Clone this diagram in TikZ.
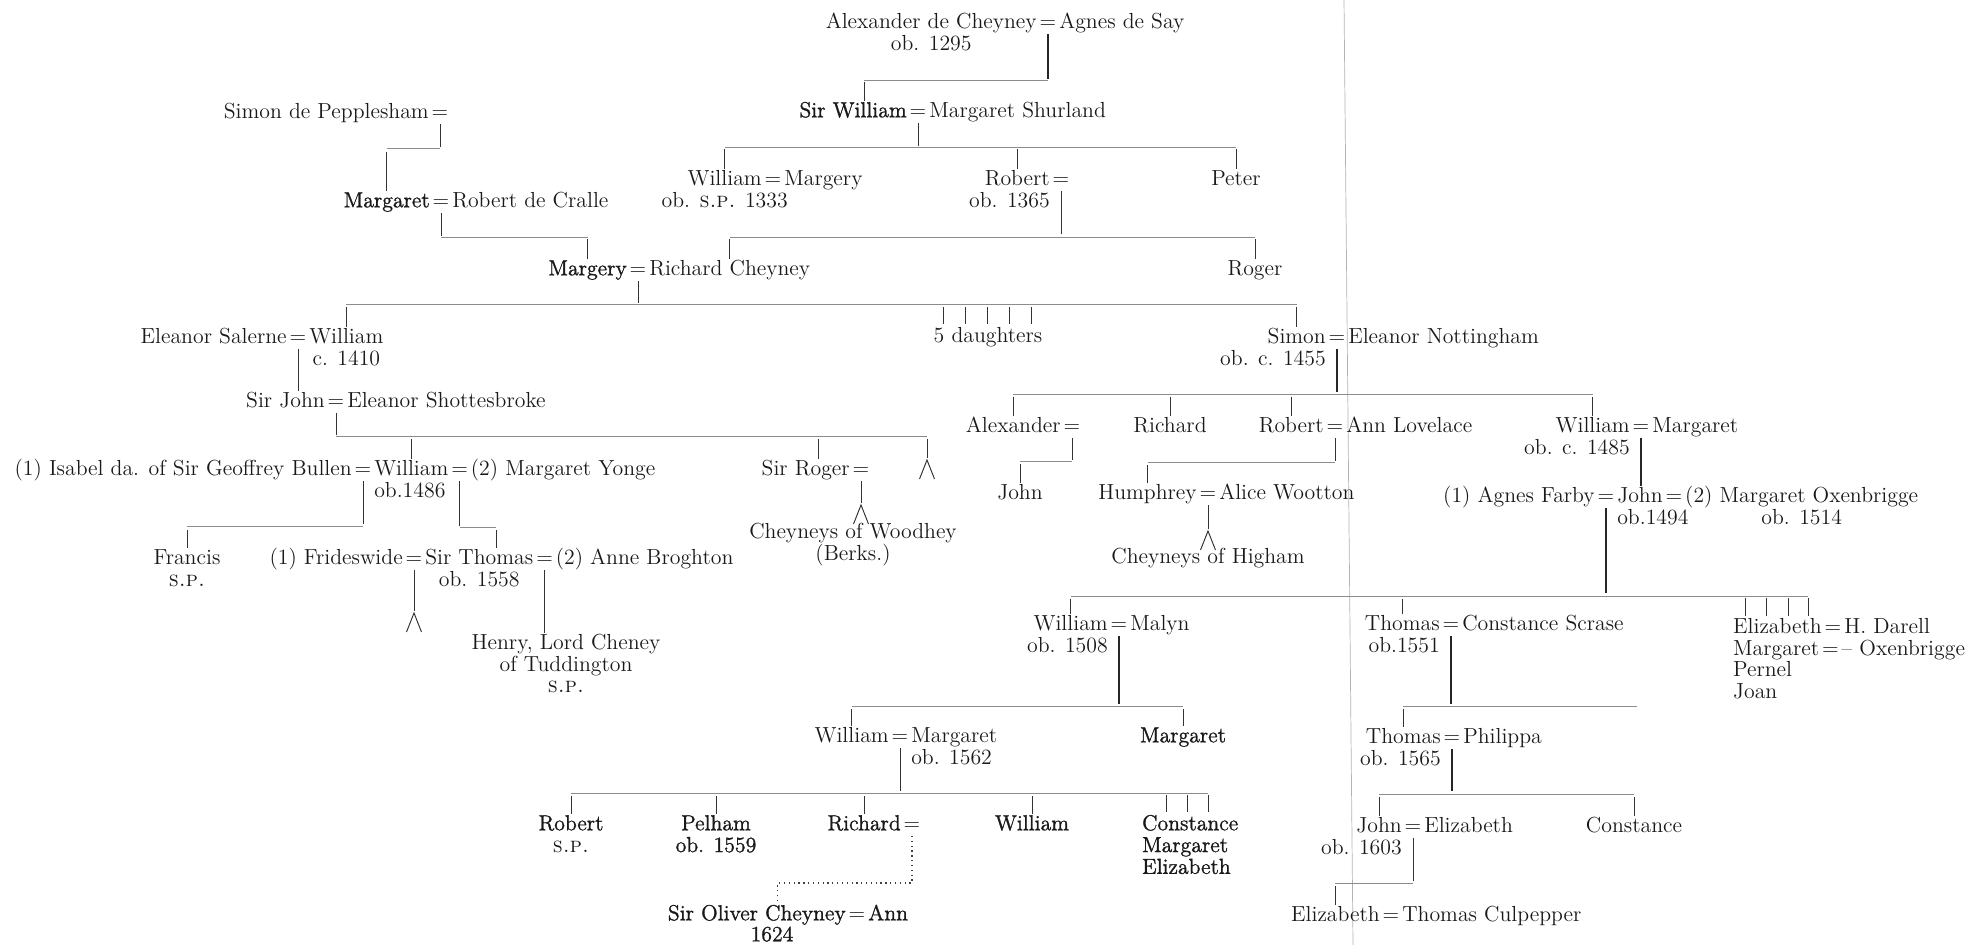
\documentclass[tikz,border=0pt]{standalone}
\usepackage{xcolor}
\usepackage{fontspec}
\usepackage{tikz}
\usetikzlibrary{positioning,calc}
\newfontfamily\heavy{lmroman12-regular.otf}[FakeBold=1.2]

\begin{document}
\begin{tikzpicture}[x=0.02cm, y=-0.02cm,
    every node/.style={inner xsep=1pt, inner ysep=0.5pt, text height=8.5pt, text depth=2.5pt, text=black!90, font=\fontsize{12.4}{12}\selectfont},
    eq/.style={inner xsep=0.3pt},
    hv/.style={font=\fontsize{12.4}{12}\selectfont\heavy},
    kin/.style={line width=0.55pt, black!80},
    heavy/.style={line width=1pt, black!85},
    bar/.style={line width=0.45pt, black!45},
    dots/.style={line width=0.75pt, black!75, dotted}]
    \useasboundingbox (0,0) rectangle (1983,945);
    \draw[black!30, line width=0.4pt] (1344,0) -- (1353,945);

    \node[eq] (m0) at (1048,23) {=};
    \node[left=0pt of m0] (alex) {Alexander de Cheyney};
    \node[right=0pt of m0] (agnes) {Agnes de Say};
    \node[below=0pt of alex] (d0) {ob. 1295};

    \node[eq] (m1) at (918,112) {=};
    \node[hv, left=0pt of m1] (swil) {Sir William};
    \node[right=0pt of m1] (mshur) {Margaret Shurland};

    \node[eq] (m2) at (440,113) {=};
    \node[left=0pt of m2] (simpep) {Simon de Pepplesham};

    \node[eq] (m3) at (441,202) {=};
    \node[hv, left=0pt of m3] (mpep) {Margaret};
    \node[right=0pt of m3] (cralle) {Robert de Cralle};

    \node[eq] (m4) at (773,180) {=};
    \node[left=0pt of m4] (wil2) {William};
    \node[right=0pt of m4] (mgy2) {Margery};
    \node[below=0pt of wil2] (d4) {ob. \textsc{s.p.} 1333};
    \node[eq] (m5) at (1061,180) {=};
    \node[left=0pt of m5] (rob2) {Robert};
    \node[anchor=north east] (d5) at (rob2.south east) {ob. 1365};
    \node (pet2) at (1236,180) {Peter};

    \node[eq] (m6) at (638,270) {=};
    \node[hv, left=0pt of m6] (mgy3) {Margery};
    \node[right=0pt of m6] (rch3) {Richard Cheyney};
    \node (rog3) at (1255,270) {Roger};

    \node[eq] (m7) at (298,338) {=};
    \node[left=0pt of m7] (esal) {Eleanor Salerne};
    \node[right=0pt of m7] (wil4) {William};
    \node[below=0pt of wil4] (d7) {c. 1410};
    \node (dau4) at (988,337) {5 daughters};
    \node[eq] (m8) at (1337,338) {=};
    \node[left=0pt of m8] (sim4) {Simon};
    \node[right=0pt of m8] (enot) {Eleanor Nottingham};
    \node[anchor=north east] (d8) at (sim4.south east) {ob. c. 1455};

    \node[eq] (m9) at (336,402) {=};
    \node[left=0pt of m9] (sjohn) {Sir John};
    \node[right=0pt of m9] (esho) {Eleanor Shottesbroke};

    \node[eq] (m10) at (363,470) {=};
    \node[left=0pt of m10] (isab) {(1) Isabel da. of Sir Geoffrey Bullen};
    \node[right=0pt of m10] (wil6) {William};
    \node[eq, right=0pt of wil6] (m11) {=};
    \node[right=0pt of m11] (myon) {(2) Margaret Yonge};
    \node[anchor=north west] (d10) at (wil6.south west) {ob.1486};
    \node[eq] (m12) at (861,470) {=};
    \node[left=0pt of m12] (sroger) {Sir Roger};
    \coordinate (lam1) at (927,458);
    \coordinate (lam2) at (m12.south |- 0,503);

    \node[eq] (m13) at (1072,427) {=};
    \node[left=0pt of m13] (alx5) {Alexander};
    \node (ric5) at (1170,427) {Richard};
    \node[eq] (m14) at (1335,427) {=};
    \node[left=0pt of m14] (rob5) {Robert};
    \node[right=0pt of m14] (alov) {Ann Lovelace};
    \node[eq] (m15) at (1641,427) {=};
    \node[left=0pt of m15] (wil5) {William};
    \node[right=0pt of m15] (mar5) {Margaret};
    \node[anchor=north east] (d15) at (wil5.south east) {ob. c. 1485};

    \node (joh6) at (1020,494) {John};
    \node[eq] (m16) at (1208,494) {=};
    \node[left=0pt of m16] (hum6) {Humphrey};
    \node[right=0pt of m16] (awoo) {Alice Wootton};
    \coordinate (lam4) at (m16.south |- 0,529);
    \node[eq] (m17) at (1606,497) {=};
    \node[left=0pt of m17] (afar) {(1) Agnes Farby};
    \node[right=0pt of m17] (joh7) {John};
    \node[eq, right=0pt of joh7] (m18) {=};
    \node[right=0pt of m18] (moxe) {(2) Margaret Oxenbrigge};
    \node[anchor=north west] (d17) at (joh7.south west) {ob.1494};
    \node[below=0pt of moxe] (d18) {ob. 1514};

    \node (woodh) at (853,533) {Cheyneys of Woodhey};
    \node[below=0pt of woodh] (berks) {(Berks.)};
    \node (higham) at (1208,558) {Cheyneys of Higham};

    \node (fran) at (187,559) {Francis};
    \node[below=0pt of fran] (d19) {\textsc{s.p.}};
    \node[eq] (m19) at (414,559) {=};
    \node[left=0pt of m19] (frid) {(1) Frideswide};
    \node[right=0pt of m19] (stho) {Sir Thomas};
    \node[eq, right=0pt of stho] (m20) {=};
    \node[right=0pt of m20] (abro) {(2) Anne Broghton};
    \node[below=0pt of stho] (d20) {ob. 1558};
    \coordinate (lam3) at (m19.south |- 0,611);
    \node (henry) at (566,644) {Henry, Lord Cheney};
    \node[below=0pt of henry] (tudd) {of Tuddington};
    \node[below=0pt of tudd] (d21) {\textsc{s.p.}};

    \node[eq] (m21) at (1119,625) {=};
    \node[left=0pt of m21] (wil8) {William};
    \node[right=0pt of m21] (maly) {Malyn};
    \node[anchor=north east] (d22) at (wil8.south east) {ob. 1508};
    \node[eq] (m22) at (1451,625) {=};
    \node[left=0pt of m22] (tho8) {Thomas};
    \node[right=0pt of m22] (cscr) {Constance Scrase};
    \node[anchor=north east] (d23) at (tho8.south east) {ob.1551};
    \node[eq] (m23) at (1833,628) {=};
    \node[left=0pt of m23] (eli8) {Elizabeth};
    \node[right=0pt of m23] (dar) {H. Darell};
    \node[anchor=north west] (mar8) at (eli8.south west) {Margaret};
    \node[eq, right=0pt of mar8] (m24) {=};
    \node[right=0pt of m24] (oxb) {-- Oxenbrigge};
    \node[anchor=north west] (pern) at (mar8.south west) {Pernel};
    \node[anchor=north west] (joan) at (pern.south west) {Joan};

    \node[eq] (m25) at (900,737) {=};
    \node[left=0pt of m25] (wil9) {William};
    \node[right=0pt of m25] (mar9) {Margaret};
    \node[anchor=north west] (d25) at (mar9.south west) {ob. 1562};
    \node[hv] (mar9b) at (1183,737) {Margaret};
    \node[eq] (m26) at (1452,738) {=};
    \node[left=0pt of m26] (tho9) {Thomas};
    \node[right=0pt of m26] (phil) {Philippa};
    \node[anchor=north east] (d26) at (tho9.south east) {ob. 1565};

    \node[hv] (rob10) at (571,825) {Robert};
    \node[below=0pt of rob10] (d27) {\textsc{s.p.}};
    \node[hv] (pel10) at (716,825) {Pelham};
    \node[hv, below=0pt of pel10] (d28) {ob. 1559};
    \node[eq] (m27) at (912,825) {=};
    \node[hv, left=0pt of m27] (ric10) {Richard};
    \node[hv] (wil10) at (1032,825) {William};
    \node[hv, anchor=west] (con10) at (1140,825) {Constance};
    \node[hv, anchor=north west] (mar10) at (con10.south west) {Margaret};
    \node[hv, anchor=north west] (eli10) at (mar10.south west) {Elizabeth};
    \node[eq] (m28) at (1413,827) {=};
    \node[left=0pt of m28] (joh10) {John};
    \node[right=0pt of m28] (eli10b) {Elizabeth};
    \node[anchor=north east] (d29) at (joh10.south east) {ob. 1603};
    \node (con10b) at (1634,827) {Constance};

    \node[eq] (m29) at (857,915) {=};
    \node[hv, left=0pt of m29] (oliv) {Sir Oliver Cheyney};
    \node[hv, right=0pt of m29] (ann) {Ann};
    \node[hv] (d30) at (772,936) {1624};
    \node[eq] (m30) at (1391,916) {=};
    \node[left=0pt of m30] (eli11) {Elizabeth};
    \node[right=0pt of m30] (culp) {Thomas Culpepper};

    \coordinate (t1) at ($(swil.north)+(11,0)$);
    \draw[heavy] (m0.south) -- (m0.south |- 0,79);
    \draw[bar] (t1 |- 0,80) -- (m0.south |- 0,80);
    \draw[kin] (t1 |- 0,82) -- (t1);

    \draw[kin] (m1.south) -- (m1.south |- 0,146);
    \draw[bar] (wil2.north |- 0,147) -- (pet2.north |- 0,147);
    \foreach \c in {wil2,rob2,pet2} \draw[kin] (\c.north |- 0,149) -- (\c.north);

    \draw[kin] (m2.south) -- (m2.south |- 0,147);
    \draw[bar] (mpep.north |- 0,148) -- (m2.south |- 0,148);
    \draw[kin] (mpep.north |- 0,152) -- (mpep.north);

    \draw[kin] (m3.south) -- (m3.south |- 0,236);
    \draw[bar] (m3.south |- 0,237) -- (mgy3.north |- 0,237);
    \draw[kin] (mgy3.north |- 0,239) -- (mgy3.north);

    \draw[kin] (m5.south) -- (m5.south |- 0,234);
    \draw[bar] (rch3.north |- 0,237) -- (rog3.north |- 0,237);
    \foreach \c in {rch3,rog3} \draw[kin] (\c.north |- 0,239) -- (\c.north);

    \draw[kin] (m6.south) -- (m6.south |- 0,303);
    \draw[bar] (wil4.north |- 0,304) -- (sim4.north |- 0,304);
    \foreach \c in {wil4,sim4} \draw[kin] (\c.north |- 0,307) -- (\c.north);
    \foreach \dx in {-45,-23,-1,21,43} \draw[kin] ($(dau4.north)+(\dx,-19)$) -- ($(dau4.north)+(\dx,-2)$);

    \draw[kin] (m7.south) -- (m7.south |- sjohn.north);

    \coordinate (t7) at ($(sroger.north)+(13,0)$);
    \draw[kin] (m9.south) -- (m9.south |- 0,435);
    \draw[bar] (m9.south |- 0,436) -- (lam1 |- 0,436);
    \foreach \c in {wil6,t7,lam1} \draw[kin] (\c |- 0,439) -- (\c);

    \draw[kin] (m10.south) -- (m10.south |- 0,524);
    \draw[bar] (fran.north |- 0,526) -- (m10.south |- 0,526);
    \draw[kin] (fran.north |- 0,530) -- (fran.north);

    \coordinate (t9) at ($(stho.north)+(17,0)$);
    \draw[kin] (m11.south) -- (m11.south |- 0,526);
    \draw[bar] (m11.south |- 0,527) -- (t9 |- 0,527);
    \draw[kin] (t9 |- 0,530) -- (t9);

    \draw[kin] (m12.south) -- (lam2);
    \draw[kin] (m19.south) -- (lam3);
    \draw[kin] (m16.south) -- (lam4);
    \foreach \l in {lam1,lam2,lam3,lam4} \draw[kin] ($(\l)+(-7.5,21)$) -- ($(\l)+(0,2)$) -- ($(\l)+(7.5,21)$);

    \draw[kin] (m20.south) -- (m20.south |- henry.north);

    \draw[heavy] (m8.south) -- (m8.south |- 0,392);
    \draw[bar] (alx5.north |- 0,394) -- (wil5.north |- 0,394);
    \foreach \c in {alx5,ric5,rob5,wil5} \draw[kin] (\c.north |- 0,397) -- (\c.north);

    \draw[kin] (m13.south) -- (m13.south |- 0,460);
    \draw[bar] (joh6.north |- 0,461) -- (m13.south |- 0,461);
    \draw[kin] (joh6.north |- 0,464) -- (joh6.north);

    \draw[kin] (m14.south) -- (m14.south |- 0,461);
    \draw[bar] (hum6.north |- 0,462) -- (m14.south |- 0,462);
    \draw[kin] (hum6.north |- 0,465) -- (hum6.north);

    \draw[heavy] (m15.south) -- (m15.south |- joh7.north);

    \coordinate (t18) at ($(eli8.north)+(31,0)$);
    \draw[heavy] (m17.south) -- (m17.south |- 0,593);
    \draw[bar] (wil8.north |- 0,596) -- (t18 |- 0,596);
    \foreach \c in {wil8,tho8} \draw[kin] (\c.north |- 0,599) -- (\c.north);
    \foreach \dx in {-32,-11,11,31} \draw[kin] ($(eli8.north)+(\dx,-19)$) -- ($(eli8.north)+(\dx,-1)$);

    \draw[heavy] (m21.south) -- (m21.south |- 0,704);
    \draw[bar] (wil9.north |- 0,706) -- (mar9b.north |- 0,706);
    \foreach \c in {wil9,mar9b} \draw[kin] (\c.north |- 0,709) -- (\c.north);

    \coordinate (e20) at (1637,706);
    \draw[heavy] (m22.south) -- (m22.south |- 0,704);
    \draw[bar] (tho9.north |- 0,706) -- (e20);
    \draw[kin] (tho9.north |- 0,709) -- (tho9.north);

    \coordinate (t21) at ($(con10.north west)+(68,0)$);
    \draw[kin] (m25.south) -- (m25.south |- 0,791);
    \draw[bar] (rob10.north |- 0,793) -- (t21 |- 0,793);
    \foreach \c in {rob10,pel10,ric10,wil10} \draw[kin] (\c.north |- 0,796) -- (\c.north);
    \foreach \dx in {26,47,68} \draw[kin] ($(con10.north west)+(\dx,-19)$) -- ($(con10.north west)+(\dx,-2)$);

    \coordinate (t22) at ($(oliv.north)+(21,0)$);
    \draw[dots] (m27.south) -- (m27.south |- 0,883) -| (t22);

    \draw[heavy] (m26.south) -- (m26.south |- 0,791);
    \draw[bar] (joh10.north |- 0,794) -- (con10b.north |- 0,794);
    \foreach \c in {joh10,con10b} \draw[kin] (\c.north |- 0,797) -- (\c.north);

    \draw[kin] (m28.south) -- (m28.south |- 0,881);
    \draw[bar] (eli11.north |- 0,883) -- (m28.south |- 0,883);
    \draw[kin] (eli11.north |- 0,886) -- (eli11.north);
\end{tikzpicture}
\end{document}
